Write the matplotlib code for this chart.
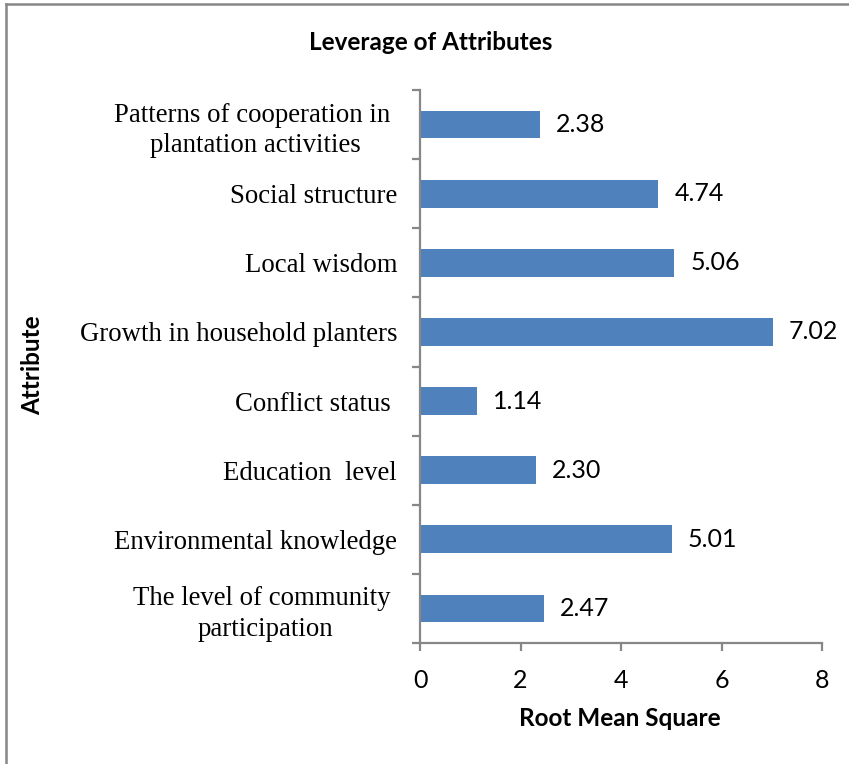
import matplotlib
matplotlib.use("Agg")
import matplotlib.pyplot as plt
from matplotlib.lines import Line2D

# categories listed bottom -> top, as in the chart
attributes = [
    "The level of community \nparticipation",
    "Environmental knowledge",
    "Education  level",
    "Conflict status ",
    "Growth in household planters",
    "Local wisdom",
    "Social structure",
    "Patterns of cooperation in \nplantation activities",
]
rms = [2.47, 5.01, 2.30, 1.14, 7.02, 5.06, 4.74, 2.38]
xticks = [0, 2, 4, 6, 8]

BAR = "#4F81BD"
GREY = "#878787"
SANS = ["Lato", "DejaVu Sans"]
SERIF = ["Liberation Serif", "DejaVu Serif"]

fig = plt.figure(figsize=(8.49, 7.64), dpi=100)
ax = fig.add_axes([420 / 849, 1 - 643 / 764, 402 / 849, 553 / 764])

pos = list(range(len(attributes)))
ax.barh(pos, rms, height=0.4, color=BAR, zorder=2)
for y, v in zip(pos, rms):
    ax.text(v + 0.32, y, f"{v:.2f}", va="center", ha="left",
            fontsize=18, family=SANS)

ax.set_xlim(0, 8)
ax.set_ylim(-0.5, len(attributes) - 0.5)
ax.set_xticks(xticks)
ax.set_xticklabels([str(t) for t in xticks], fontsize=18, family=SANS)

# category labels centred on bars, tick marks on category boundaries
ax.set_yticks(pos)
ax.set_yticklabels(attributes, fontsize=19.3, family=SERIF,
                   multialignment="center", linespacing=1.3)
ax.set_yticks([p - 0.5 for p in pos] + [len(pos) - 0.5], minor=True)
ax.tick_params(axis="y", which="major", length=0, pad=16.5)
ax.tick_params(axis="y", which="minor", length=6, width=1.6, color=GREY, direction="out")
ax.tick_params(axis="x", length=6, width=1.6, color=GREY, direction="out", pad=12.5)

for side in ("top", "right"):
    ax.spines[side].set_visible(False)
for side in ("left", "bottom"):
    ax.spines[side].set_color(GREY)
    ax.spines[side].set_linewidth(1.6)

fig.text(431 / 849, 1 - 43 / 764, "Leverage of Attributes", ha="center", va="center",
         fontsize=17.5, fontweight="bold", family=SANS)
fig.text(620 / 849, 1 - 718 / 764, "Root Mean Square", ha="center", va="center",
         fontsize=17.5, fontweight="bold", family=SANS)
fig.text(33 / 849, 1 - 365 / 764, "Attribute", ha="center", va="center", rotation=90,
         fontsize=17.5, fontweight="bold", family=SANS)

# chart-area border (top and left edges visible in the crop)
fig.add_artist(Line2D([6 / 849, 6 / 849], [0, 1 - 4 / 764], transform=fig.transFigure,
                      color=GREY, lw=1.8))
fig.add_artist(Line2D([6 / 849, 1], [1 - 4 / 764, 1 - 4 / 764], transform=fig.transFigure,
                      color=GREY, lw=1.8))

fig.savefig("out.png", dpi=100)
